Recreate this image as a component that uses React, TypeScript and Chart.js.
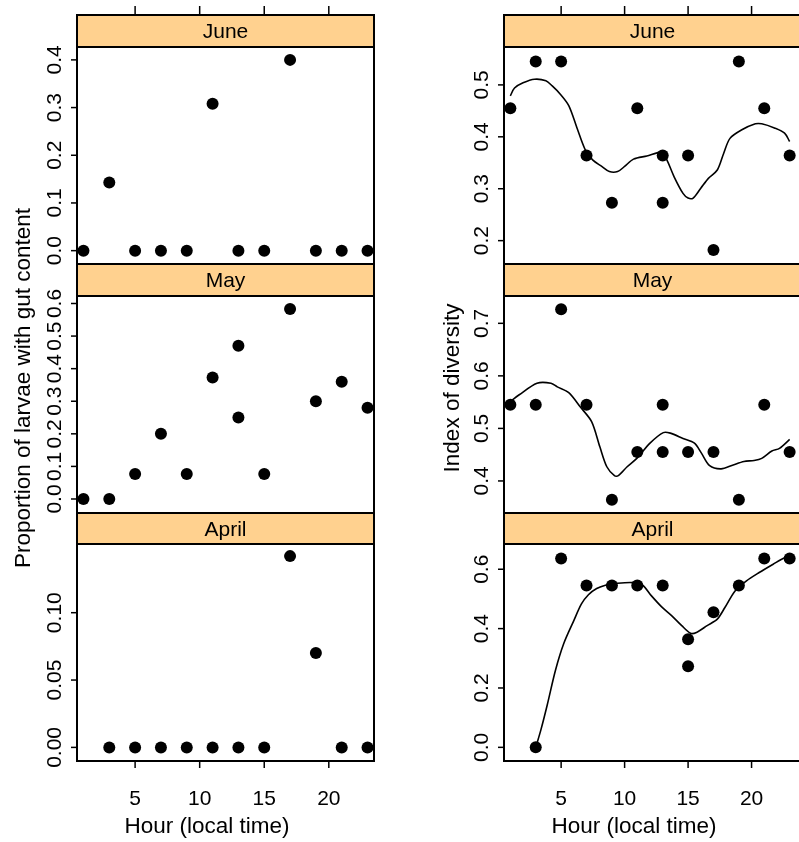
import React, { useEffect, useRef } from "react";
import { Chart, registerables } from "chart.js";

Chart.register(...registerables);

// ---- data -------------------------------------------------------------

const hourTicks = [5, 10, 15, 20];
const hourRange = [0.5, 23.5];

// Proportion of larvae with gut content
const gutJuneHour = [1, 3, 5, 7, 9, 11, 13, 15, 17, 19, 21, 23];
const gutJune = [0, 0.143, 0, 0, 0, 0.308, 0, 0, 0.4, 0, 0, 0];
const gutMayHour = [1, 3, 5, 7, 9, 11, 13, 13, 15, 17, 19, 21, 23];
const gutMay = [0, 0, 0.077, 0.2, 0.077, 0.373, 0.47, 0.25, 0.077, 0.583, 0.3, 0.36, 0.28];
const gutAprilHour = [3, 5, 7, 9, 11, 13, 15, 17, 19, 21, 23];
const gutApril = [0, 0, 0, 0, 0, 0, 0, 0.142, 0.07, 0, 0];

// Index of diversity
const divJuneHour = [1, 3, 5, 7, 9, 11, 13, 13, 15, 17, 19, 21, 23];
const divJune = [0.455, 0.545, 0.545, 0.364, 0.273, 0.455, 0.364, 0.273, 0.364, 0.182, 0.545, 0.455, 0.364];
const divMayHour = [1, 3, 5, 7, 9, 11, 13, 13, 15, 17, 19, 21, 23];
const divMay = [0.545, 0.545, 0.727, 0.545, 0.364, 0.455, 0.545, 0.455, 0.455, 0.455, 0.364, 0.545, 0.455];
const divAprilHour = [3, 5, 7, 9, 11, 13, 15, 15, 17, 19, 21, 23];
const divApril = [0, 0.636, 0.545, 0.545, 0.545, 0.545, 0.364, 0.273, 0.455, 0.545, 0.636, 0.636];

// Smoothed diversity trend
const fitJuneHour = [1, 1.33, 2, 2.9, 3.8, 4.3, 4.9, 5.6, 6.25, 6.9, 7.5, 8.2, 8.8, 9.45, 10, 10.7, 11.75, 12.9, 13.3, 13.9, 14.6, 15, 15.4, 16, 16.6, 17.3, 17.8, 18.3, 19.2, 20.3, 20.8, 21.8, 22.6, 23];
const fitJune = [0.479, 0.494, 0.504, 0.511, 0.508, 0.498, 0.483, 0.46, 0.417, 0.375, 0.355, 0.343, 0.333, 0.333, 0.343, 0.357, 0.363, 0.37, 0.357, 0.323, 0.291, 0.282, 0.282, 0.301, 0.32, 0.336, 0.368, 0.397, 0.413, 0.425, 0.425, 0.417, 0.407, 0.391];
const fitMayHour = [1, 1.7, 3.1, 4.2, 4.7, 5.6, 6.5, 7.4, 8.05, 8.6, 9.2, 9.5, 10.2, 11, 12, 13.05, 13.6, 14.6, 15.5, 16.05, 16.7, 17.6, 18.5, 19.4, 20.2, 20.8, 21.6, 22.2, 23];
const fitMay = [0.551, 0.564, 0.586, 0.586, 0.579, 0.568, 0.541, 0.513, 0.465, 0.427, 0.41, 0.41, 0.427, 0.444, 0.472, 0.492, 0.491, 0.481, 0.472, 0.453, 0.429, 0.423, 0.43, 0.437, 0.439, 0.443, 0.457, 0.462, 0.479];
const fitAprilHour = [3, 3.4, 3.9, 4.55, 5.2, 6, 6.6, 7.15, 7.8, 8.55, 9.3, 10.6, 11.4, 12.1, 12.9, 13.7, 14.5, 15.2, 15.7, 16.5, 17.3, 17.9, 18.7, 19.6, 20.6, 21.7, 22.6, 23];
const fitApril = [0, 0.058, 0.142, 0.259, 0.349, 0.427, 0.483, 0.514, 0.535, 0.547, 0.552, 0.555, 0.547, 0.511, 0.474, 0.444, 0.41, 0.384, 0.388, 0.41, 0.432, 0.471, 0.527, 0.561, 0.589, 0.617, 0.639, 0.642];

// Axis ticks
const gutJuneTicks = ["0.0", "0.1", "0.2", "0.3", "0.4"];
const gutMayTicks = ["0.0", "0.1", "0.2", "0.3", "0.4", "0.5", "0.6"];
const gutAprilTicks = ["0.00", "0.05", "0.10"];
const divJuneTicks = ["0.2", "0.3", "0.4", "0.5"];
const divMayTicks = ["0.4", "0.5", "0.6", "0.7"];
const divAprilTicks = ["0.0", "0.2", "0.4", "0.6"];

const months = ["June", "May", "April"];
const xTitle = "Hour (local time)";
const gutTitle = "Proportion of larvae with gut content";
const divTitle = "Index of diversity";

// ---- layout -------------------------------------------------------------

const PAGE_H = 842;
const FONT = '"Liberation Sans", Arial, Helvetica, sans-serif';
const STRIP_BG = "#FFD18F";

type Col = { left: number; width: number; L: number; R: number; titleX: number; yTitleX: number; yTitle: string };
const cols: Col[] = [
  { left: 0, width: 400, L: 77, R: 374, titleX: 207, yTitleX: 24, yTitle: gutTitle },
  { left: 400, width: 402, L: 504, R: 801, titleX: 634, yTitleX: 453, yTitle: divTitle },
];
const rows = [
  { stripTop: 15, top: 47, bottom: 264 },
  { stripTop: 264, top: 296, bottom: 513 },
  { stripTop: 513, top: 544, bottom: 761 },
];

type PanelSpec = {
  col: number;
  row: number;
  hours: number[];
  values: number[];
  fitHours?: number[];
  fitValues?: number[];
  yMin: number;
  yMax: number;
  yTicks: string[];
};

const panels: PanelSpec[] = [
  { col: 0, row: 0, hours: gutJuneHour, values: gutJune, yMin: -0.028, yMax: 0.427, yTicks: gutJuneTicks },
  { col: 0, row: 1, hours: gutMayHour, values: gutMay, yMin: -0.043, yMax: 0.623, yTicks: gutMayTicks },
  { col: 0, row: 2, hours: gutAprilHour, values: gutApril, yMin: -0.0101, yMax: 0.151, yTicks: gutAprilTicks },
  { col: 1, row: 0, hours: divJuneHour, values: divJune, fitHours: fitJuneHour, fitValues: fitJune, yMin: 0.155, yMax: 0.573, yTicks: divJuneTicks },
  { col: 1, row: 1, hours: divMayHour, values: divMay, fitHours: fitMayHour, fitValues: fitMay, yMin: 0.339, yMax: 0.752, yTicks: divMayTicks },
  { col: 1, row: 2, hours: divAprilHour, values: divApril, fitHours: fitAprilHour, fitValues: fitApril, yMin: -0.046, yMax: 0.685, yTicks: divAprilTicks },
];

function panelDecor(spec: PanelSpec) {
  const col = cols[spec.col];
  const row = rows[spec.row];
  return {
    id: "panelDecor",
    afterDraw(chart: any) {
      const ctx: CanvasRenderingContext2D = chart.ctx;
      const xs = chart.scales.x;
      const ys = chart.scales.y;
      const L = col.L - col.left;
      const R = col.R - col.left;
      ctx.save();
      ctx.strokeStyle = "#000";
      ctx.fillStyle = "#000";

      // strip
      ctx.fillStyle = STRIP_BG;
      ctx.fillRect(L, row.stripTop, R - L, row.top - row.stripTop);
      ctx.lineWidth = 2;
      ctx.strokeRect(L, row.stripTop, R - L, row.top - row.stripTop);
      ctx.fillStyle = "#000";
      ctx.font = `21px ${FONT}`;
      ctx.textAlign = "center";
      ctx.textBaseline = "middle";
      ctx.fillText(months[spec.row], (L + R) / 2, (row.stripTop + row.top) / 2 + 1.5);

      // panel box
      ctx.lineWidth = 2;
      ctx.strokeRect(L, row.top, R - L, row.bottom - row.top);

      // y ticks with rotated labels
      ctx.lineWidth = 1.5;
      spec.yTicks.forEach((t) => {
        const y = ys.getPixelForValue(parseFloat(t));
        ctx.beginPath();
        ctx.moveTo(L - 6, y);
        ctx.lineTo(L, y);
        ctx.stroke();
        ctx.save();
        ctx.translate(L - 21.5, y);
        ctx.rotate(-Math.PI / 2);
        ctx.textAlign = "center";
        ctx.textBaseline = "middle";
        ctx.font = `21px ${FONT}`;
        ctx.fillText(t, 0, 0);
        ctx.restore();
      });

      // hour ticks on top of the first row
      if (spec.row === 0) {
        hourTicks.forEach((h) => {
          const x = xs.getPixelForValue(h);
          ctx.beginPath();
          ctx.moveTo(x, row.stripTop - 9);
          ctx.lineTo(x, row.stripTop);
          ctx.stroke();
        });
      }

      // y-axis title on the middle row
      if (spec.row === 1) {
        ctx.save();
        ctx.translate(col.yTitleX - col.left, 388);
        ctx.rotate(-Math.PI / 2);
        ctx.textAlign = "center";
        ctx.textBaseline = "middle";
        ctx.font = `22.5px ${FONT}`;
        ctx.fillText(col.yTitle, 0, 0);
        ctx.restore();
      }

      // hour axis on the bottom row
      if (spec.row === 2) {
        ctx.font = `21px ${FONT}`;
        ctx.textAlign = "center";
        ctx.textBaseline = "alphabetic";
        hourTicks.forEach((h) => {
          const x = xs.getPixelForValue(h);
          ctx.beginPath();
          ctx.moveTo(x, row.bottom);
          ctx.lineTo(x, row.bottom + 7);
          ctx.stroke();
          ctx.fillText(String(h), x, 805);
        });
        ctx.font = `22.5px ${FONT}`;
        ctx.fillText(xTitle, col.titleX - col.left, 833);
      }
      ctx.restore();
    },
  };
}

function Panel({ spec }: { spec: PanelSpec }) {
  const ref = useRef<HTMLCanvasElement | null>(null);
  useEffect(() => {
    if (!ref.current) return;
    const col = cols[spec.col];
    const row = rows[spec.row];
    const datasets: any[] = [
      {
        data: spec.hours.map((h, i) => ({ x: h, y: spec.values[i] })),
        pointRadius: 6,
        pointBackgroundColor: "#000",
        pointBorderWidth: 0,
        showLine: false,
        clip: false,
      },
    ];
    if (spec.fitHours && spec.fitValues) {
      const fv = spec.fitValues;
      datasets.push({
        data: spec.fitHours.map((h, i) => ({ x: h, y: fv[i] })),
        showLine: true,
        pointRadius: 0,
        borderColor: "#000",
        borderWidth: 1.6,
        tension: 0.3,
        fill: false,
        clip: false,
      });
    }
    const chart = new Chart(ref.current, {
      type: "scatter",
      data: { datasets },
      options: {
        animation: false,
        responsive: false,
        maintainAspectRatio: false,
        events: [],
        layout: {
          padding: {
            left: col.L - col.left,
            right: col.left + col.width - col.R,
            top: row.top,
            bottom: PAGE_H - row.bottom,
          },
        },
        scales: {
          x: { type: "linear", min: hourRange[0], max: hourRange[1], display: false },
          y: { type: "linear", min: spec.yMin, max: spec.yMax, display: false },
        },
        plugins: { legend: { display: false }, tooltip: { enabled: false } },
      },
      plugins: [panelDecor(spec)],
    });
    return () => chart.destroy();
  }, [spec]);
  const col = cols[spec.col];
  return (
    <canvas
      ref={ref}
      width={col.width}
      height={PAGE_H}
      style={{ position: "absolute", left: col.left, top: 0, width: col.width, height: PAGE_H }}
    />
  );
}

export default function App() {
  return (
    <div
      style={{
        position: "absolute",
        left: 0,
        top: 0,
        width: 799,
        height: PAGE_H,
        overflow: "hidden",
        background: "#fff",
      }}
    >
      {panels.map((p, i) => (
        <Panel key={i} spec={p} />
      ))}
    </div>
  );
}
